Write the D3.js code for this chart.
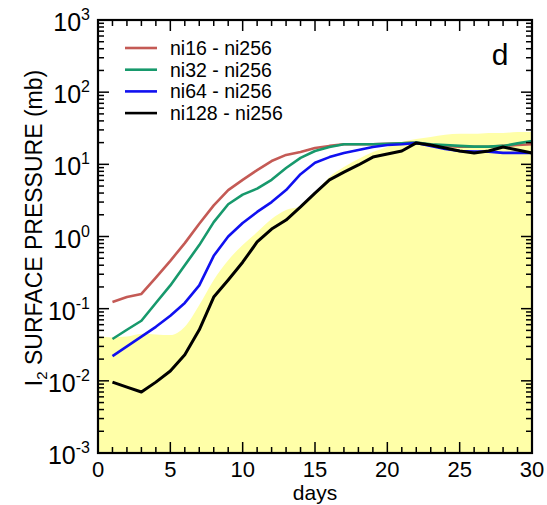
<!DOCTYPE html>
<html>
<head>
<meta charset="utf-8">
<script src="https://cdn.jsdelivr.net/npm/d3@7"></script>
<style>
  body { margin: 0; background: #fff; }
  text { font-family: "Liberation Sans", Arial, sans-serif; fill: #000; }
</style>
</head>
<body>
<svg id="chart" width="547" height="505"></svg>
<script>
// days for the curves (1..30) and for the shaded band (0..30)
const days = d3.range(1, 31);
const bandDays = d3.range(0, 31);

// surface pressure differences (mb)
const ni16 = [0.124, 0.145, 0.16, 0.27, 0.46, 0.81, 1.5, 2.7, 4.4, 6.1,
  8.3, 11.1, 13.5, 14.8, 16.8, 18, 19, 19, 19, 19.2,
  19.5, 20, 18.5, 18, 17.5, 17.5, 17.5, 18, 18.5, 19];
const ni32 = [0.038, 0.051, 0.068, 0.12, 0.21, 0.40, 0.76, 1.58, 2.8, 3.8,
  4.6, 6.1, 8.9, 12.3, 15.3, 17.4, 19, 19, 19, 19.2,
  19.5, 20, 19, 18.5, 18, 17.6, 17.6, 18, 19.5, 21];
const ni64 = [0.022, 0.030, 0.041, 0.056, 0.080, 0.12, 0.21, 0.54, 1.0, 1.54,
  2.19, 3.0, 4.4, 7.3, 10.5, 12.6, 14.4, 15.8, 17.4, 18.5,
  19, 19.8, 18, 16.3, 15.3, 15, 15, 14.4, 14.4, 14.4];
const ni128 = [0.0096, 0.0082, 0.0070, 0.0096, 0.0137, 0.023, 0.051, 0.145, 0.25, 0.44,
  0.84, 1.27, 1.69, 2.57, 4.0, 6.1, 7.8, 9.8, 12.6, 13.9,
  15.3, 19.8, 18.5, 16.8, 15.3, 14.4, 15.3, 17.4, 15.8, 14.4];

// upper edge of the yellow band
const bandTop = [0.041, 0.040, 0.041, 0.045, 0.044, 0.043, 0.056, 0.112, 0.25, 0.47, 0.76,
  1.15, 1.75, 2.33, 2.65, 4.1, 6.7, 9.2, 11.9, 14.8, 17.4,
  20.4, 22.4, 24, 25.7, 26.5, 26.5, 27.2, 27.2, 28, 28];

const seriesNames = ["ni16 - ni256", "ni32 - ni256", "ni64 - ni256", "ni128 - ni256"];
const seriesValues = [ni16, ni32, ni64, ni128];
const seriesColors = ["#c45a55", "#17996c", "#1010f0", "#000000"];

const xTicks = [0, 5, 10, 15, 20, 25, 30];
const yExponents = [-3, -2, -1, 0, 1, 2, 3];

const svg = d3.select("#chart");
const margin = { left: 98, right: 15, top: 20, bottom: 52 };
const width = 547 - margin.left - margin.right;
const height = 505 - margin.top - margin.bottom;

const x = d3.scaleLinear().domain([0, 30]).range([0, width]);
const y = d3.scaleLog().domain([1e-3, 1e3]).range([height, 0]);

const g = svg.append("g").attr("transform", `translate(${margin.left},${margin.top})`);

// shaded band
const area = d3.area()
  .x((d, i) => x(bandDays[i]))
  .y0(height)
  .y1(d => y(d))
  .curve(d3.curveMonotoneX);
g.append("path").datum(bandTop)
  .attr("d", area)
  .attr("fill", "#ffffa8");

// curves
const line = d3.line()
  .x((d, i) => x(days[i]))
  .y(d => y(d));
seriesValues.forEach((vals, k) => {
  g.append("path").datum(vals)
    .attr("d", line)
    .attr("fill", "none")
    .attr("stroke", seriesColors[k])
    .attr("stroke-width", k === 3 ? 3 : 2.6)
    .attr("stroke-linejoin", "round");
});

// ticks (inward, all four sides)
const minorY = [];
for (let e = -3; e < 3; e++) for (let m = 2; m <= 9; m++) minorY.push(m * Math.pow(10, e));
const majorY = yExponents.map(e => Math.pow(10, e));
const minorX = d3.range(0, 31).filter(d => d % 5 !== 0);

function drawTicks() {
  const t = g.append("g").attr("stroke", "#000").attr("stroke-width", 1.5);
  majorY.forEach(v => {
    t.append("line").attr("x1", 0).attr("x2", 11).attr("y1", y(v)).attr("y2", y(v));
    t.append("line").attr("x1", width).attr("x2", width - 11).attr("y1", y(v)).attr("y2", y(v));
  });
  minorY.forEach(v => {
    t.append("line").attr("x1", 0).attr("x2", 6).attr("y1", y(v)).attr("y2", y(v));
    t.append("line").attr("x1", width).attr("x2", width - 6).attr("y1", y(v)).attr("y2", y(v));
  });
  xTicks.forEach(v => {
    t.append("line").attr("x1", x(v)).attr("x2", x(v)).attr("y1", height).attr("y2", height - 11);
    t.append("line").attr("x1", x(v)).attr("x2", x(v)).attr("y1", 0).attr("y2", 11);
  });
  minorX.forEach(v => {
    t.append("line").attr("x1", x(v)).attr("x2", x(v)).attr("y1", height).attr("y2", height - 6);
    t.append("line").attr("x1", x(v)).attr("x2", x(v)).attr("y1", 0).attr("y2", 6);
  });
}
drawTicks();

// frame
g.append("rect").attr("width", width).attr("height", height)
  .attr("fill", "none").attr("stroke", "#000").attr("stroke-width", 2.2);

// x tick labels
g.selectAll(".xlab").data(xTicks).enter().append("text")
  .attr("x", d => x(d)).attr("y", height + 24)
  .attr("text-anchor", "middle").attr("font-size", 22)
  .text(d => d);

g.append("text").attr("x", width / 2).attr("y", height + 47)
  .attr("text-anchor", "middle").attr("font-size", 21).text("days");

// y tick labels: 10 with superscript exponent
yExponents.forEach(e => {
  const tx = g.append("text")
    .attr("x", -8).attr("y", y(Math.pow(10, e)) + 11)
    .attr("text-anchor", "end").attr("font-size", 25);
  tx.append("tspan").text("10");
  tx.append("tspan").attr("font-size", 16).attr("dy", -11).text(e);
});

// y axis title
const yt = svg.append("text")
  .attr("transform", "translate(42,228) rotate(-90)")
  .attr("text-anchor", "middle").attr("font-size", 23);
yt.append("tspan").text("I");
yt.append("tspan").attr("font-size", 15).attr("dy", 5).text("2");
yt.append("tspan").attr("dy", -5).text(" SURFACE PRESSURE (mb)");

// legend
const legend = g.append("g").attr("transform", "translate(27,28)");
seriesNames.forEach((name, k) => {
  const row = legend.append("g").attr("transform", `translate(0,${k * 21.7})`);
  row.append("line").attr("x1", 0).attr("x2", 32).attr("y1", 0).attr("y2", 0)
    .attr("stroke", seriesColors[k]).attr("stroke-width", 2.6);
  row.append("text").attr("x", 45).attr("y", 7).attr("font-size", 19.5).text(name);
});

// panel letter
g.append("text").attr("x", width - 32).attr("y", 45)
  .attr("text-anchor", "middle").attr("font-size", 30).text("d");
</script>
</body>
</html>
